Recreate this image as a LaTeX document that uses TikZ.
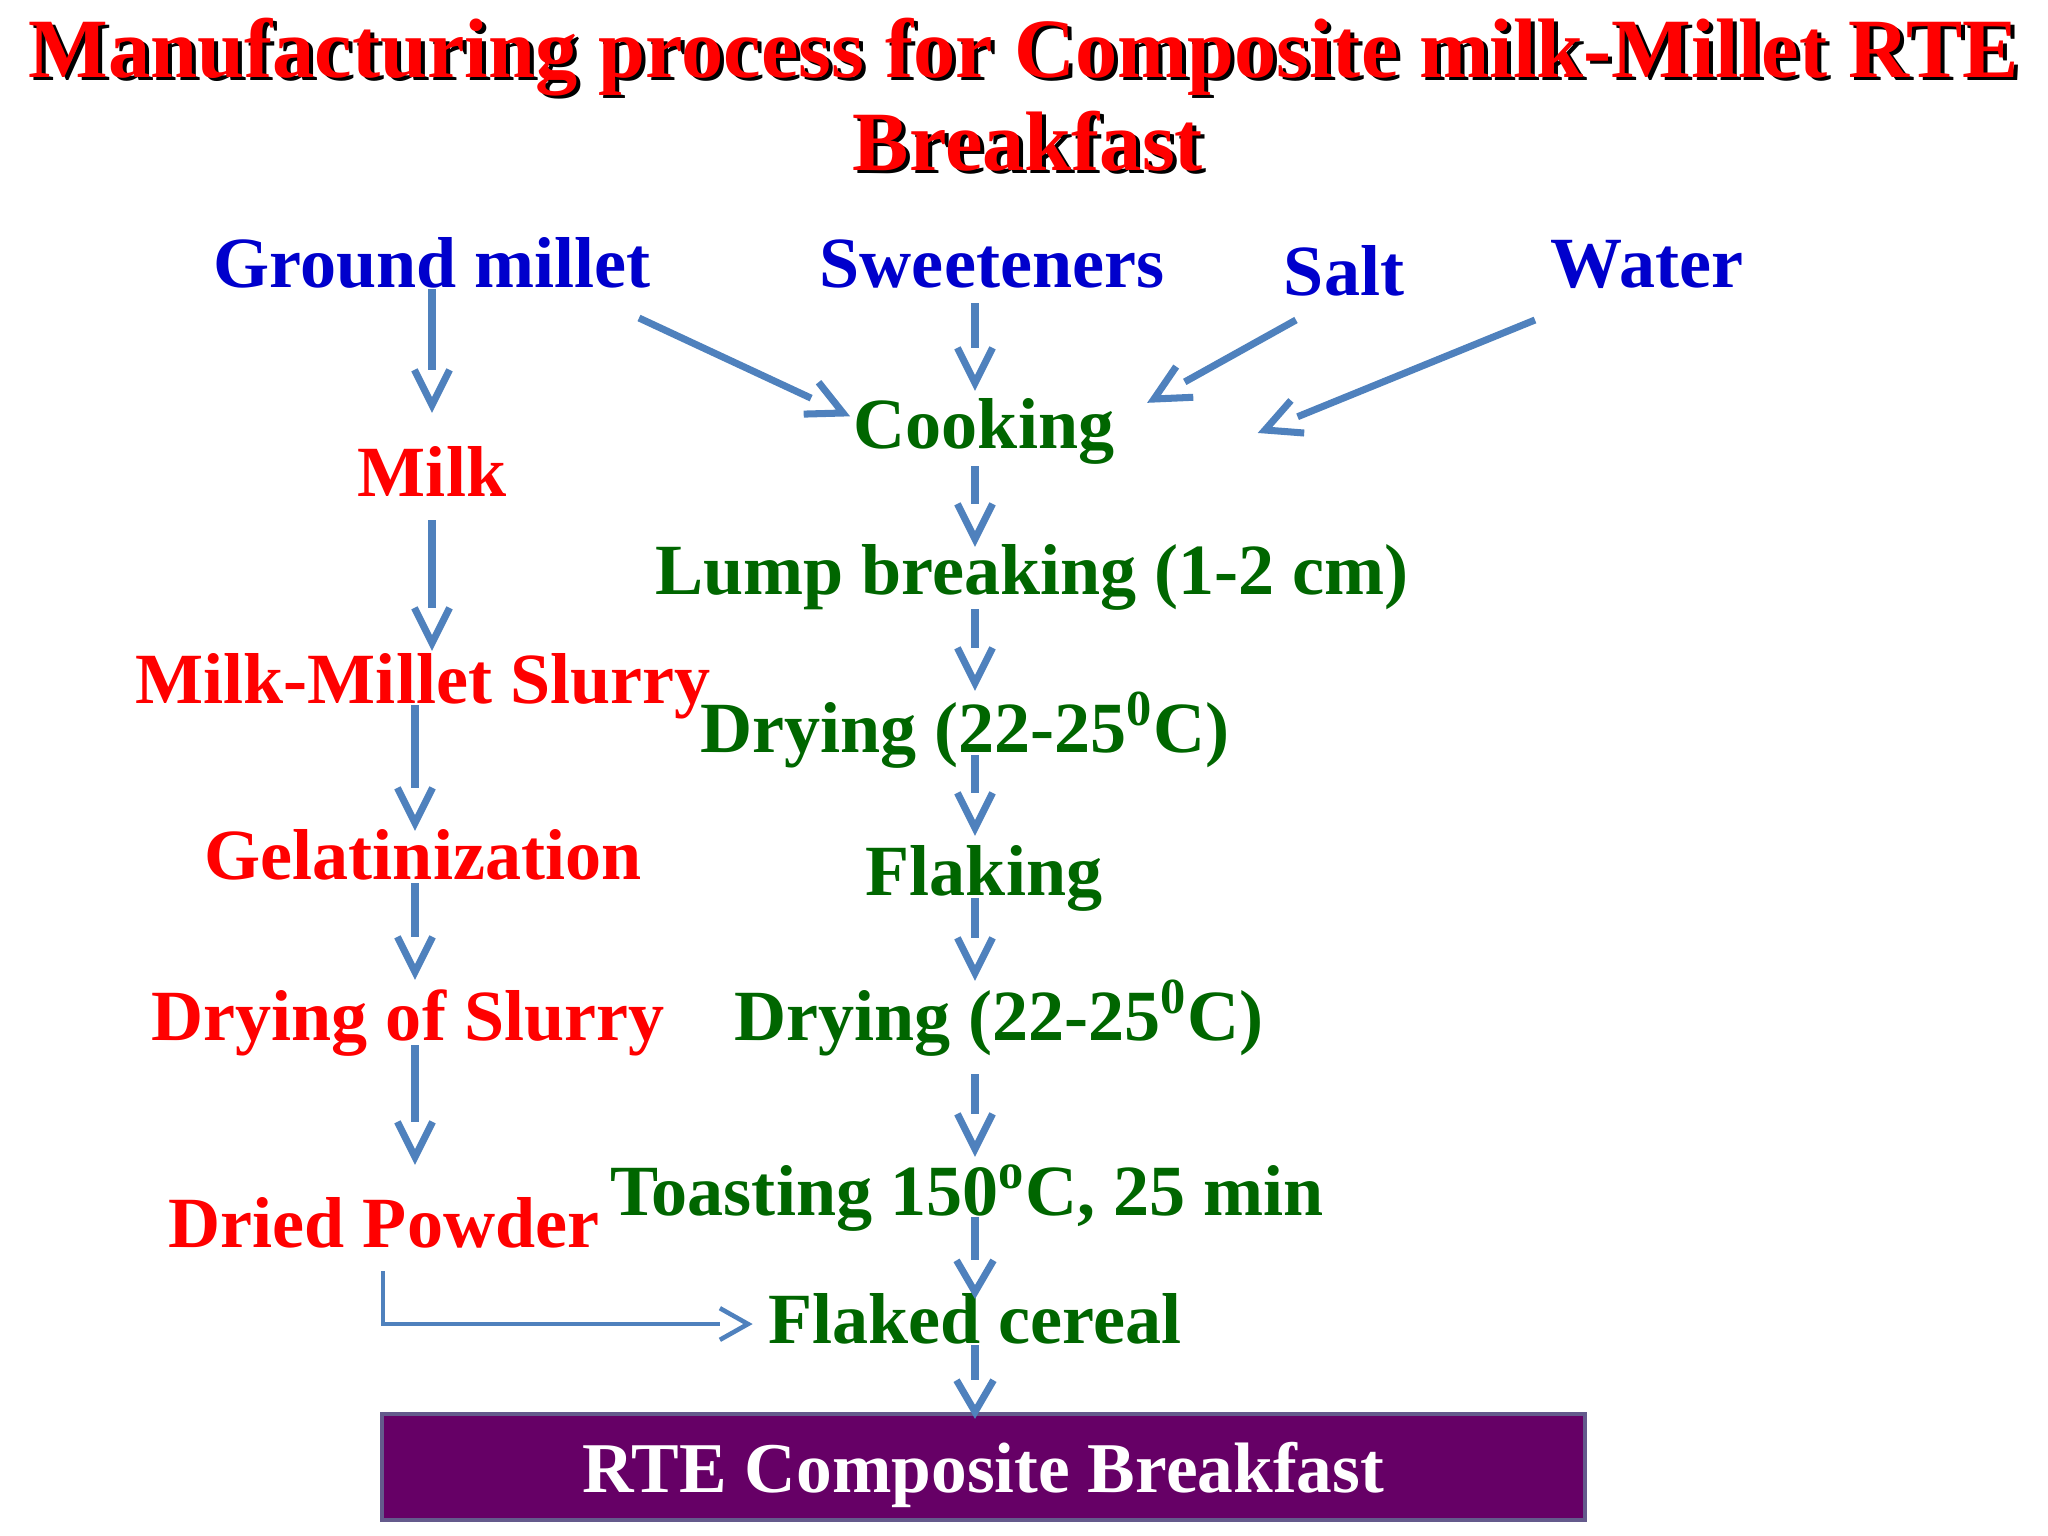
\documentclass[tikz,border=0pt]{standalone}
\usepackage{fontspec}
\setmainfont{Liberation Serif}
\usetikzlibrary{calc,arrows.meta}
\definecolor{tblue}{RGB}{0,0,204}
\definecolor{tgreen}{RGB}{0,102,0}
\definecolor{tred}{RGB}{255,0,0}
\definecolor{arrowc}{RGB}{79,129,189}
\definecolor{boxfill}{RGB}{102,0,102}
\definecolor{boxedge}{RGB}{100,90,140}
\pgfdeclarearrow{
  name = OpenVee,
  parameters = {\the\pgfarrowlength,\the\pgfarrowwidth},
  setup code = {
    \pgfarrowssettipend{0pt}
    \pgfarrowssetlineend{-\pgfarrowlength}
    \pgfarrowssetbackend{-\pgfarrowlength}
    \pgfarrowssetvisualbackend{-\pgfarrowlength}
    \pgfarrowshullpoint{0pt}{0pt}
    \pgfarrowshullpoint{-\pgfarrowlength}{.5\pgfarrowwidth}
    \pgfarrowshullpoint{-\pgfarrowlength}{-.5\pgfarrowwidth}
    \pgfarrowssavethe\pgfarrowlength
    \pgfarrowssavethe\pgfarrowwidth
  },
  drawing code = {
    \pgfpathmoveto{\pgfqpoint{-\pgfarrowlength}{.5\pgfarrowwidth}}
    \pgfpathlineto{\pgfqpoint{0pt}{0pt}}
    \pgfpathlineto{\pgfqpoint{-\pgfarrowlength}{-.5\pgfarrowwidth}}
    \pgfusepathqstroke
  },
  defaults = {length = 10pt, width = 10pt}
}
\tikzset{
  txt/.style={anchor=base, inner sep=0pt, font=\fontsize{20.5}{24}\selectfont\bfseries},
  tb/.style={txt, text=tblue},
  tg/.style={txt, text=tgreen},
  tr/.style={txt, text=tred},
  ttl/.style={anchor=base, inner sep=0pt, font=\fontsize{24}{28}\selectfont\bfseries},
  arr/.style={draw=arrowc, line width=2pt, -{OpenVee[length=10pt,width=10pt]}},
  arrshort/.style={draw=arrowc, line width=2pt, -{OpenVee[length=9pt,width=10.5pt]}},
  arrthin/.style={draw=arrowc, line width=1.3pt, -{OpenVee[length=8pt,width=9pt]}},
  finalbox/.style={draw=boxedge, line width=1.2pt, fill=boxfill, text=white,
    minimum width=12.03cm, minimum height=1.06cm, inner sep=0pt, text depth=0pt,
    font=\fontsize{20.3}{24}\selectfont\bfseries}
}
\begin{document}
\begin{tikzpicture}[x=0.01cm, y=-0.01cm]
\useasboundingbox (0,0) rectangle (2048,1536);
% title with shadow
\node[ttl, text=black] (t1s) at (1028,80) {Manufacturing process for Composite milk-Millet RTE};
\node[ttl, text=tred] (t1) at (1024,77) {Manufacturing process for Composite milk-Millet RTE};
\node[ttl, text=black] (t2s) at (1032,173) {Breakfast};
\node[ttl, text=tred] (t2) at (1028,170) {Breakfast};
% column guides
\coordinate (ax) at (975,0);
\coordinate (lx2) at (415,0);
% inputs
\node[tb] (gm) at (432,287) {Ground millet};
\node[tb] (sw) at (992,287) {Sweeteners};
\node[tb] (salt) at (1344,295) {Salt};
\node[tb] (water) at (1647,287) {Water};
% main column
\node[tg] (cook) at (984,448) {Cooking};
\node[tg] (lump) at (1032,594) {Lump breaking (1-2 cm)};
\node[tg] (dry1) at (965,752) {Drying (22-25\textsuperscript{0}C)};
\node[tg] (flak) at (984,895) {Flaking};
\node[tg] (dry2) at (999,1040) {Drying (22-25\textsuperscript{0}C)};
\node[tg] (toast) at (967,1215) {Toasting 150\textsuperscript{o}C, 25 min};
\node[tg] (flaked) at (975,1343) {Flaked cereal};
% left column
\node[tr] (milk) at (432,496) {Milk};
\node[tr] (slurry) at (423,703) {Milk-Millet Slurry};
\node[tr] (gel) at (423,879) {Gelatinization};
\node[tr] (drysl) at (408,1040) {Drying of Slurry};
\node[tr] (powder) at (384,1247) {Dried Powder};
% final box
\node[finalbox] (box) at (983.5,1467) {RTE Composite Breakfast};
% connectors: inputs
\draw[arr] ($(gm.base)+(0,2)$) -- ($(milk.base)+(0,-91)$);
\draw[arr] ($(gm.base)+(207,31)$) -- ($(cook.base)+(-141,-35)$);
\draw[arr] ($(sw.base -| ax)+(0,16)$) -- ($(cook.base -| ax)+(0,-65)$);
\draw[arr] ($(salt.base)+(-48,25)$) -- ($(cook.base)+(170,-49)$);
\draw[arr] ($(water.base)+(-112,33)$) -- ($(cook.base)+(281,-18)$);
% main column
\draw[arr] ($(cook.base -| ax)+(0,18)$) -- ($(lump.base -| ax)+(0,-55)$);
\draw[arr] ($(lump.base -| ax)+(0,15)$) -- ($(dry1.base -| ax)+(0,-69)$);
\draw[arr] ($(dry1.base -| ax)+(0,3)$) -- ($(flak.base -| ax)+(0,-67)$);
\draw[arr] ($(flak.base -| ax)+(0,3)$) -- ($(dry2.base -| ax)+(0,-67)$);
\draw[arr] ($(dry2.base -| ax)+(0,34)$) -- ($(toast.base -| ax)+(0,-66)$);
\draw[arrshort] ($(toast.base -| ax)+(0,2)$) -- ($(flaked.base -| ax)+(0,-51)$);
\draw[arrshort] ($(flaked.base -| ax)+(0,2)$) -- (box.north -| ax);
% left column
\draw[arr] ($(milk.base)+(0,24)$) -- ($(slurry.base -| milk.base)+(0,-60)$);
\draw[arr] ($(slurry.base -| lx2)+(0,2)$) -- ($(gel.base -| lx2)+(0,-56)$);
\draw[arr] ($(gel.base -| lx2)+(0,4)$) -- ($(drysl.base -| lx2)+(0,-68)$);
\draw[arr] ($(drysl.base -| lx2)+(0,5)$) -- ($(powder.base -| lx2)+(0,-90)$);
\draw[arrthin] ($(powder.base)+(-1,24)$) |- ($(flaked.base)+(-227,-19)$);
\end{tikzpicture}
\end{document}
